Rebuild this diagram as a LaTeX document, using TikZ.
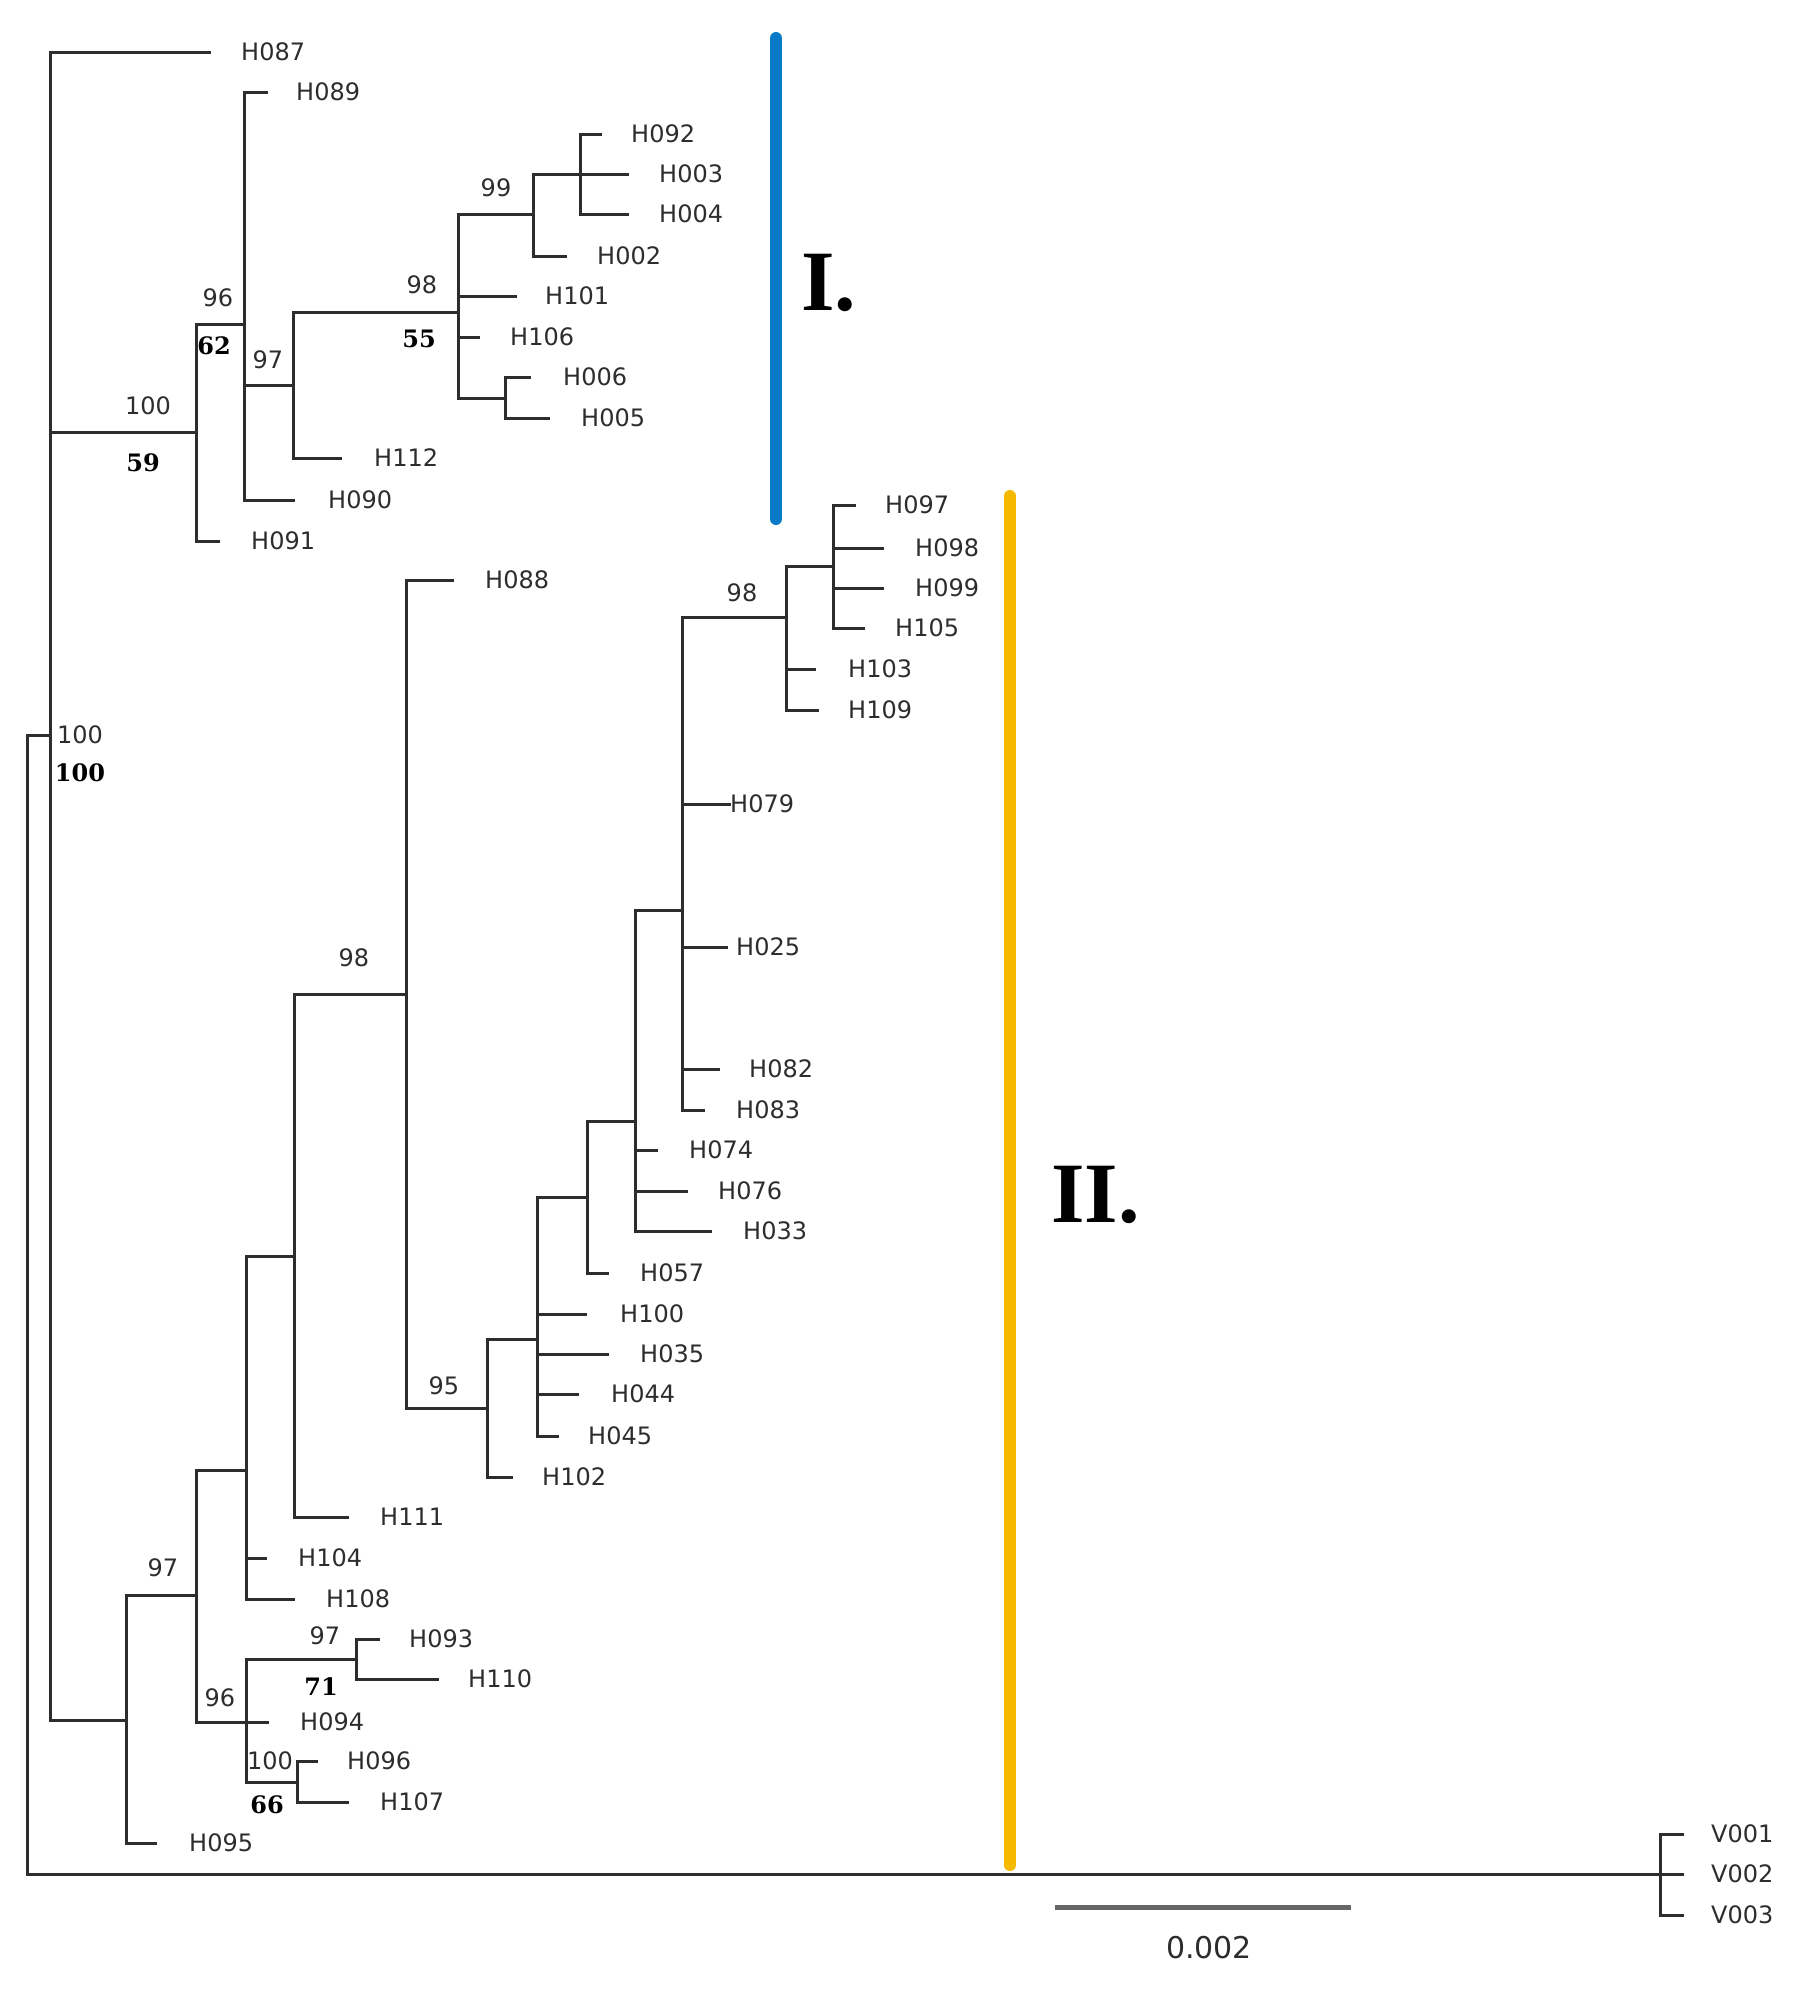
\documentclass[tikz,border=0pt]{standalone}
\usepackage{fontspec}
\newfontfamily\labf{DejaVu Sans}
\newfontfamily\bsf{DejaVu Serif}
\newfontfamily\bigf{Liberation Serif}
\definecolor{cladeblue}{RGB}{8,122,200}
\definecolor{cladeyellow}{RGB}{245,185,0}
\definecolor{branch}{RGB}{45,45,45}
\begin{document}
\begin{tikzpicture}[x=1pt,y=-1pt,
  br/.style={draw=branch,line width=3pt,line cap=rect},
  lab/.style={anchor=west,inner sep=0pt,text=branch,font=\labf\fontsize{24}{24}\selectfont},
  bs/.style={inner sep=0pt,text=branch,font=\labf\fontsize{24}{24}\selectfont},
  bsb/.style={inner sep=0pt,text=black,font=\bsf\bfseries\fontsize{24}{24}\selectfont},
  clade/.style={line width=12pt,line cap=round},
  cladelab/.style={anchor=west,inner sep=0pt,font=\bigf\bfseries\fontsize{86}{86}\selectfont}]
\useasboundingbox (0,0) rectangle (1805,1989);
% internal nodes
\foreach \n/\x/\y in {R/27/1874, N0/50/735, A/196/432, B/244/324, C/293/385, D/458/312,
  E/505/398, F/533/214, G/580/174, L/126/1720, M/196/1595, P/246/1470, Q/294/1256,
  S/406/994, T/487/1408, U/537/1339, V/587/1197, W/635/1121, X/682/910, Y/786/617,
  Z/833/566, K/246/1722, J/356/1659, I/297/1782, O/1660/1874}
  \coordinate (\n) at (\x,\y);
% internal edges
\foreach \p/\c in {R/N0, R/O, N0/A, N0/L, A/B, B/C, C/D, D/E, D/F, F/G,
  L/M, M/P, M/K, P/Q, Q/S, S/T, T/U, U/V, V/W, W/X, X/Y, Y/Z, K/J, K/I}
  \draw[br] (\p) |- (\c);
% leaves: name / parent / tip x / y / label x
\foreach \n/\p/\tx/\ty/\lx in {
  H087/N0/209/52/241, H091/A/218/541/251, H089/B/266/92/296, H090/B/293/500/328,
  H112/C/340/458/374, H101/D/515/296/545, H106/D/478/337/510,
  H006/E/529/377/563, H005/E/548/418/581, H002/F/565/256/597,
  H092/G/600/134/631, H003/G/627/174/659, H004/G/627/214/659,
  H095/L/155/1843/189, H104/P/265/1558/298, H108/P/293/1599/326,
  H111/Q/347/1517/380, H088/S/452/580/485, H102/T/511/1477/542,
  H100/U/585/1314/620, H035/U/607/1354/640, H044/U/577/1394/611, H045/U/557/1436/588,
  H057/V/607/1273/640, H074/W/656/1150/689, H076/W/686/1191/718, H033/W/710/1231/743,
  H079/X/729/804/730, H025/X/726/947/736, H082/X/718/1069/749, H083/X/703/1110/736,
  H103/Y/814/669/848, H109/Y/817/710/848,
  H097/Z/854/505/885, H098/Z/882/548/915, H099/Z/882/588/915, H105/Z/863/628/895,
  H094/K/267/1722/300, H093/J/378/1639/409, H110/J/437/1679/468,
  H096/I/316/1761/347, H107/I/347/1802/380,
  V001/O/1682/1834/1711, V002/O/1682/1874/1711, V003/O/1682/1915/1711}
{
  \coordinate (t\n) at (\tx,\ty);
  \draw[br] (\p) |- (t\n);
  \node[lab] (l\n) at (\lx,\ty) {\n};
}
% bootstrap values
\node[bs] (b1) at (148,406) {100};
\node[bsb] (b1b) at (143,463) {59};
\node[bs] (b2) at (80,735) {100};
\node[bsb] (b2b) at (80,773) {100};
\node[bs] (b3) at (218,298) {96};
\node[bsb] (b3b) at (214,346) {62};
\node[bs] (b4) at (268,360) {97};
\node[bs] (b5) at (422,285) {98};
\node[bsb] (b5b) at (419,339) {55};
\node[bs] (b6) at (496,188) {99};
\node[bs] (b7) at (742,593) {98};
\node[bs] (b8) at (354,958) {98};
\node[bs] (b9) at (444,1386) {95};
\node[bs] (b10) at (163,1568) {97};
\node[bs] (b11) at (220,1698) {96};
\node[bs] (b12) at (325,1636) {97};
\node[bsb] (b12b) at (321,1687) {71};
\node[bs] (b13) at (270,1761) {100};
\node[bsb] (b13b) at (267,1805) {66};
% clade bars
\coordinate (c1a) at (776,38); \coordinate (c1b) at (776,519);
\draw[clade,cladeblue] (c1a) -- (c1b);
\node[cladelab] (cI) at (801,283) {I.};
\coordinate (c2a) at (1010,496); \coordinate (c2b) at (1010,1865);
\draw[clade,cladeyellow] (c2a) -- (c2b);
\node[cladelab] (cII) at (1051,1195) {II.};
% scale bar
\coordinate (sa) at (1055,1907); \coordinate (sb) at (1351,1907);
\draw[draw=black!60,line width=5pt] (sa) -- (sb);
\node[inner sep=0pt,text=branch,font=\labf\fontsize{30}{30}\selectfont] (sl) at (1209,1948) {0.002};
\end{tikzpicture}
\end{document}
